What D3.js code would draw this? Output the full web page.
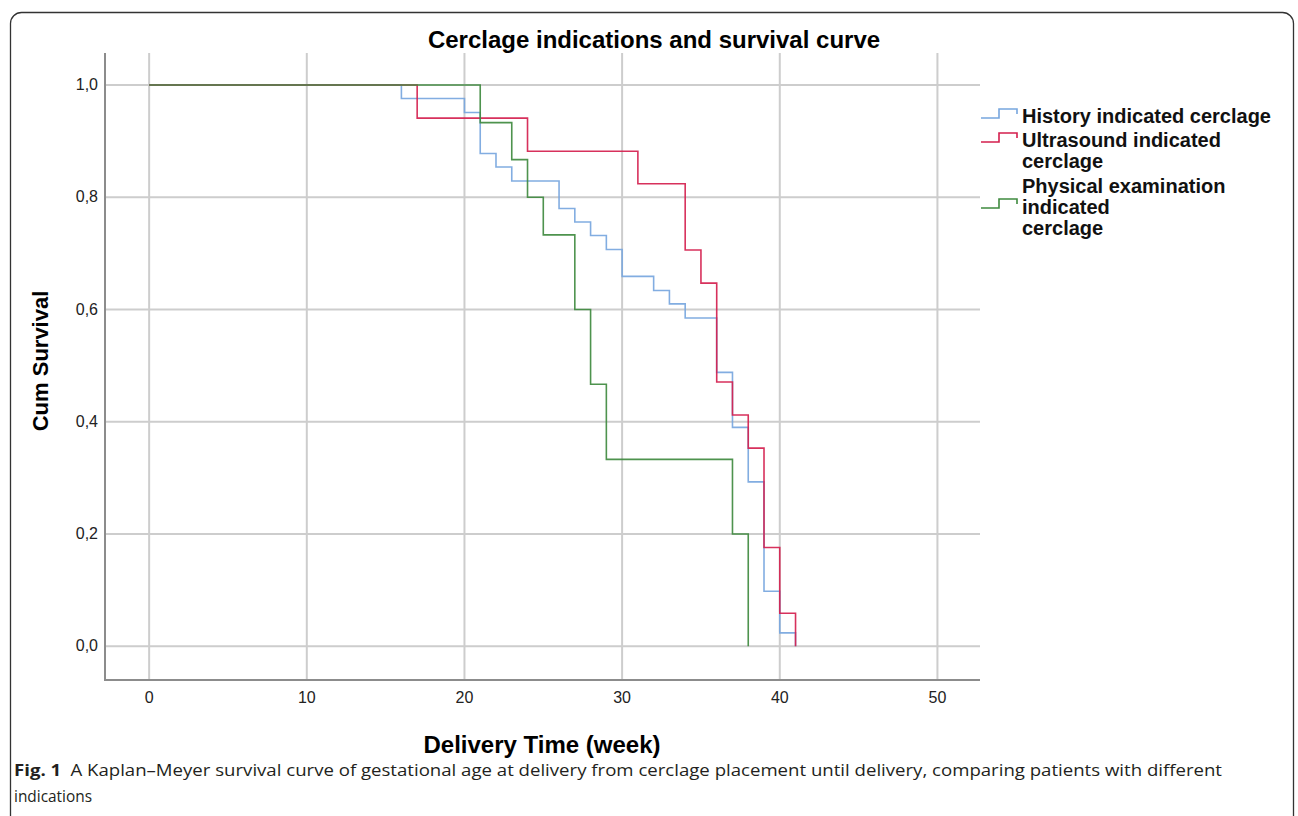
<!DOCTYPE html>
<html>
<head>
<meta charset="utf-8">
<script src="https://cdn.jsdelivr.net/npm/d3@7.9.0/dist/d3.min.js"></script>
<style>
  body { margin: 0; background: #fff; }
  svg { display: block; }
  .tick-label { font-family: "Liberation Sans", Arial, sans-serif; font-size: 16px; fill: #222; }
  .caption { font-family: "Open Sans", "Noto Sans", sans-serif; font-size: 16px; fill: #231f20; }
</style>
</head>
<body>
<svg width="1298" height="816"></svg>
<script>
// Kaplan-Meier step data (time in weeks, cumulative survival)
const historyTimes = [0, 16, 20, 21, 22, 23, 26, 27, 28, 29, 30, 32, 33, 34, 36, 37, 38, 39, 40, 41];
const historySurv  = [1, 0.976, 0.951, 0.878, 0.854, 0.829, 0.780, 0.756, 0.732, 0.707, 0.659, 0.634, 0.610, 0.585, 0.488, 0.390, 0.293, 0.098, 0.024, 0];

const ultrasoundTimes = [0, 17, 24, 31, 34, 35, 36, 37, 38, 39, 40, 41];
const ultrasoundSurv  = [1, 0.941, 0.882, 0.824, 0.706, 0.647, 0.471, 0.412, 0.353, 0.176, 0.059, 0];

const physicalTimes = [0, 21, 23, 24, 25, 27, 28, 29, 37, 38];
const physicalSurv  = [1, 0.933, 0.867, 0.8, 0.733, 0.6, 0.467, 0.333, 0.2, 0];

const xTicks = [0, 10, 20, 30, 40, 50];
const yTicks = [0, 0.2, 0.4, 0.6, 0.8, 1.0];

const seriesNames = [["History indicated cerclage"], ["Ultrasound indicated", "cerclage"], ["Physical examination", "indicated", "cerclage"]];
const seriesColors = ["#77a6de", "#d41f4e", "#3f8a3f"];

const svg = d3.select("svg");

// outer frame with rounded top corners
svg.append("rect")
    .attr("x", 10.5).attr("y", 12.5)
    .attr("width", 1283).attr("height", 830)
    .attr("rx", 11)
    .attr("fill", "none")
    .attr("stroke", "#333")
    .attr("stroke-width", 1.3);

const x = d3.scaleLinear().domain([-2.8, 52.7]).range([105, 980]);
const y = d3.scaleLinear().domain([-0.06, 1.057]).range([680, 53]);

// grid
svg.append("g").selectAll("line").data(yTicks).join("line")
    .attr("x1", x.range()[0]).attr("x2", x.range()[1])
    .attr("y1", d => y(d)).attr("y2", d => y(d))
    .attr("stroke", "#cdcdcd").attr("stroke-width", 2);
svg.append("g").selectAll("line").data(xTicks).join("line")
    .attr("x1", d => x(d)).attr("x2", d => x(d))
    .attr("y1", y.range()[1]).attr("y2", y.range()[0])
    .attr("stroke", "#cdcdcd").attr("stroke-width", 2);

// axis lines
svg.append("line")
    .attr("x1", 105).attr("x2", 105).attr("y1", y.range()[1]).attr("y2", y.range()[0] + 1)
    .attr("stroke", "#8c8c8c").attr("stroke-width", 2);
svg.append("line")
    .attr("x1", 104).attr("x2", x.range()[1]).attr("y1", y.range()[0]).attr("y2", y.range()[0])
    .attr("stroke", "#8c8c8c").attr("stroke-width", 2);

// tick labels
svg.append("g").selectAll("text").data(xTicks).join("text")
    .attr("class", "tick-label")
    .attr("x", d => x(d)).attr("y", 703)
    .attr("text-anchor", "middle")
    .text(d => d);
svg.append("g").selectAll("text").data(yTicks).join("text")
    .attr("class", "tick-label")
    .attr("x", 98).attr("y", d => y(d) + 5)
    .attr("text-anchor", "end")
    .text(d => d.toFixed(1).replace(".", ","));

// curves
const line = d3.line()
    .x(d => x(d[0]))
    .y(d => y(d[1]))
    .curve(d3.curveStepAfter);

const series = [
    d3.zip(historyTimes, historySurv),
    d3.zip(ultrasoundTimes, ultrasoundSurv),
    d3.zip(physicalTimes, physicalSurv)
];

series.forEach((pts, i) => {
    svg.append("path")
        .attr("d", line(pts))
        .attr("fill", "none")
        .attr("stroke", seriesColors[i])
        .attr("stroke-width", 1.6)
        .attr("opacity", 0.92);
});

// title and axis labels
svg.append("text")
    .attr("x", 654).attr("y", 48)
    .attr("text-anchor", "middle")
    .style("font-family", "'Liberation Sans', Arial, sans-serif")
    .style("font-size", "24px").style("font-weight", "bold")
    .text("Cerclage indications and survival curve");

svg.append("text")
    .attr("x", 542).attr("y", 753)
    .attr("text-anchor", "middle")
    .style("font-family", "'Liberation Sans', Arial, sans-serif")
    .style("font-size", "24px").style("font-weight", "bold")
    .text("Delivery Time (week)");

svg.append("text")
    .attr("transform", "translate(48,361) rotate(-90)")
    .attr("text-anchor", "middle")
    .style("font-family", "'Liberation Sans', Arial, sans-serif")
    .style("font-size", "22px").style("font-weight", "bold")
    .text("Cum Survival");

// legend
const legendTop = [117, 153, 209];
seriesNames.forEach((lines, i) => {
    const by = legendTop[i];
    const symY = i === 0 ? by : (i === 1 ? by - 12 : by - 2);
    svg.append("path")
        .attr("d", `M981,${symY + 1}H999V${symY - 8}H1017V${symY - 3}`)
        .attr("fill", "none")
        .attr("stroke", seriesColors[i])
        .attr("stroke-width", 1.6);
    const t = svg.append("text")
        .style("font-family", "'Liberation Sans', Arial, sans-serif")
        .style("font-size", "20px").style("font-weight", "bold")
        .attr("fill", "#111");
    const startY = i === 0 ? 123 : (i === 1 ? 147 : 193);
    lines.forEach((s, k) => {
        t.append("tspan").attr("x", 1022).attr("y", startY + k * 21).text(s);
    });
});

// caption
const cap = svg.append("text").attr("class", "caption").attr("x", 14).attr("y", 776)
    .attr("textLength", 1208).attr("lengthAdjust", "spacingAndGlyphs");
cap.append("tspan").style("font-weight", "bold").text("Fig. 1");
cap.append("tspan").text("\u2002A Kaplan\u2013Meyer survival curve of gestational age at delivery from cerclage placement until delivery, comparing patients with different");
svg.append("text").attr("class", "caption").attr("x", 14).attr("y", 802)
    .attr("textLength", 78).attr("lengthAdjust", "spacingAndGlyphs")
    .text("indications");
</script>
</body>
</html>
